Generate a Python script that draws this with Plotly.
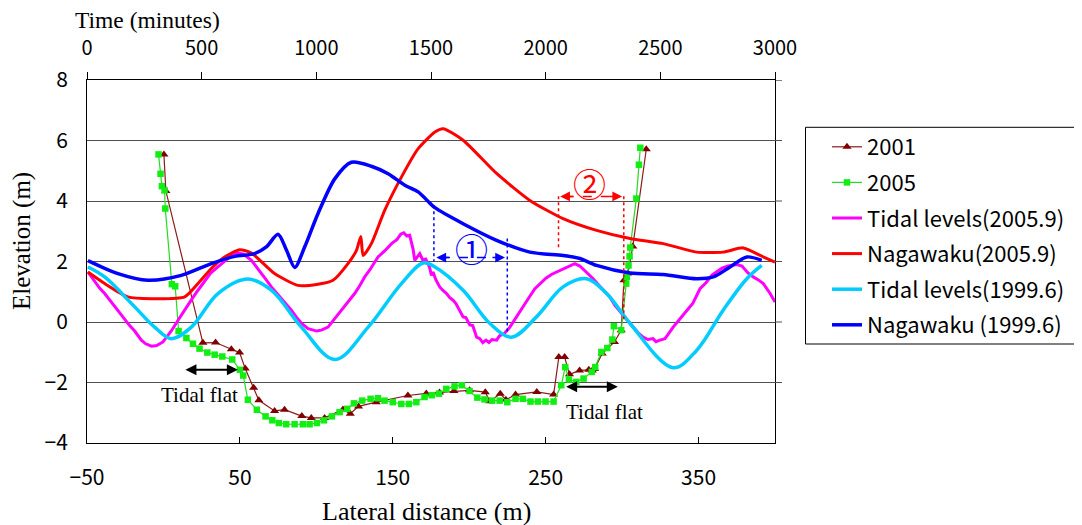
import plotly.graph_objects as go

# ---------------- data ----------------
# Cross-section profiles (lateral distance in m, elevation in m)
x_2001 = [0.3, 1.6, 25.8, 34.1, 44.4, 49.8, 53.5, 59.0, 62.4, 72.7, 79.2, 90.5, 96.7, 105.4,
          117.4, 122.2, 127.6, 139.2, 159.9, 171.9, 180.6, 190.0, 200.2, 210.5, 213.5, 220.3,
          224.0, 230.3, 244.2, 255.2, 258.6, 262.4, 265.6, 272.2, 278.2, 280.5, 282.0, 287.0,
          295.0, 299.4, 301.2, 303.8, 307.0, 315.8]
y_2001 = [5.54, 4.33, -0.69, -0.68, -0.90, -1.01, -1.54, -2.17, -2.59, -2.94, -2.90, -3.11, -3.17, -3.17,
          -2.89, -3.03, -2.79, -2.65, -2.43, -2.36, -2.33, -2.28, -2.26, -2.32, -2.62, -2.37,
          -2.57, -2.40, -2.31, -2.40, -1.16, -1.16, -1.73, -1.60, -1.58, -1.60, -1.55, -1.04,
          -0.66, -0.27, 1.38, 1.60, 2.50, 5.71]

x_2005 = [-3.2, -1.9, -1.0, 0.75, 1.2, 5.5, 7.7, 9.9, 15.0, 19.3, 23.6, 28.7, 33.5, 38.5, 45.0,
          50.0, 52.2, 55.2, 61.1, 66.8, 71.2, 75.5, 80.3, 85.8, 91.2, 95.6, 100.4, 105.0, 110.2,
          115.2, 120.2, 124.6, 130.0, 135.5, 140.3, 144.6, 150.0, 155.6, 160.5, 165.4, 170.8,
          175.5, 180.2, 185.0, 190.4, 195.2, 200.2, 205.3, 210.0, 215.0, 219.9, 224.9, 230.3,
          235.1, 240.1, 244.9, 249.9, 255.2, 260.2, 262.8, 265.2, 270.0, 274.8, 280.2, 282.4,
          286.4, 290.3, 293.6, 294.6, 299.4, 302.7, 303.1, 304.2, 304.9, 305.3, 309.3, 311.0, 311.9]
y_2005 = [5.54, 4.90, 4.49, 4.35, 3.75, 1.25, 1.18, -0.30, -0.53, -0.72, -0.88, -1.01, -1.08, -1.14, -1.24,
          -1.58, -1.77, -2.57, -2.90, -3.12, -3.25, -3.34, -3.38, -3.38, -3.38, -3.38, -3.34, -3.25, -3.12,
          -2.98, -2.87, -2.69, -2.60, -2.54, -2.52, -2.60, -2.65, -2.71, -2.71, -2.65, -2.48,
          -2.42, -2.37, -2.21, -2.13, -2.09, -2.28, -2.50, -2.56, -2.60, -2.60, -2.65, -2.54,
          -2.54, -2.63, -2.63, -2.63, -2.63, -2.09, -1.49, -1.90, -1.98, -1.87, -1.65, -1.49,
          -0.99, -0.86, -0.58, -0.14, -0.27, 1.27, 1.49, 1.87, 2.17, 2.46, 4.08, 5.20, 5.76]

# Time series (time in minutes, level in m)
t_tide_2005 = [4, 33, 55, 77, 99, 120, 142, 164, 186, 208,
               237, 256, 281, 304, 331, 352, 369, 397, 426, 452,
               484, 513, 539, 571, 601, 631, 658, 683, 717, 744,
               771, 804, 832, 863, 891, 914, 936, 964, 984, 1002,
               1022, 1051, 1081, 1102, 1124, 1146, 1168, 1189, 1211, 1233,
               1255, 1269, 1298, 1328, 1351, 1368, 1381, 1394, 1407, 1416,
               1422, 1429, 1438, 1451, 1464, 1477, 1487, 1494, 1502, 1509,
               1521, 1538, 1551, 1568, 1582, 1596, 1608, 1626, 1640, 1652,
               1669, 1682, 1699, 1713, 1726, 1740, 1753, 1766, 1786, 1800,
               1818, 1844, 1866, 1883, 1902, 1931, 1953, 1975, 2001, 2027,
               2048, 2071, 2097, 2127, 2149, 2175, 2207, 2236, 2258, 2280,
               2302, 2324, 2353, 2376, 2402, 2425, 2446, 2468, 2481, 2498,
               2520, 2533, 2556, 2585, 2615, 2642, 2673, 2699, 2725, 2746,
               2769, 2795, 2833, 2856, 2882, 2905, 2926, 2949, 2978, 3000]
h_tide_2005 = [1.65, 1.35, 1.12, 0.94, 0.72, 0.50, 0.28, 0.06, -0.12, -0.30,
               -0.60, -0.72, -0.80, -0.78, -0.66, -0.45, -0.28, 0.06, 0.42, 0.70,
               1.05, 1.35, 1.62, 1.82, 2.02, 2.20, 2.28, 2.24, 2.04, 1.78,
               1.50, 1.16, 0.92, 0.62, 0.39, 0.15, -0.05, -0.22, -0.25, -0.30,
               -0.27, -0.17, 0.12, 0.32, 0.50, 0.74, 0.95, 1.20, 1.49, 1.72,
               1.98, 2.15, 2.35, 2.59, 2.72, 2.90, 2.95, 2.85, 2.87, 2.62,
               2.40, 2.04, 2.12, 2.26, 2.05, 2.08, 1.93, 1.80, 1.54, 1.65,
               1.40, 1.16, 1.05, 0.94, 0.80, 0.72, 0.62, 0.35, 0.17, 0.15,
               -0.10, -0.12, -0.50, -0.55, -0.68, -0.60, -0.68, -0.58, -0.60, -0.45,
               -0.40, -0.17, 0.10, 0.30, 0.50, 0.85, 1.10, 1.27, 1.45, 1.58,
               1.65, 1.75, 1.82, 1.93, 1.85, 1.66, 1.43, 1.18, 1.00, 0.83,
               0.55, 0.35, 0.06, -0.15, -0.35, -0.50, -0.58, -0.55, -0.65, -0.60,
               -0.55, -0.42, -0.17, 0.10, 0.39, 0.62, 1.10, 1.30, 1.55, 1.65,
               1.78, 1.85, 1.90, 1.85, 1.62, 1.49, 1.40, 1.27, 0.95, 0.66]

t_naga_2005 = [4, 77, 178, 281, 426, 484, 542, 600, 666, 717, 818, 920, 1007, 1073, 1138, 1175,
               1194, 1204, 1240, 1298, 1371, 1444, 1517, 1553, 1640, 1786, 1931, 2076, 2222,
               2368, 2513, 2658, 2774, 2862, 2935, 3000]
h_naga_2005 = [1.65, 1.27, 0.83, 0.77, 0.83, 1.27, 1.77, 2.15, 2.39, 2.28, 1.60, 1.21, 1.25, 1.38, 1.93, 2.37,
               2.83, 2.20, 2.59, 3.69, 4.79, 5.73, 6.28, 6.39, 6.01, 4.91, 4.02, 3.42, 3.03,
               2.76, 2.59, 2.31, 2.31, 2.45, 2.20, 1.98]

t_tide_1999 = [4, 77, 208, 295, 368, 455, 571, 702, 804, 935, 1081, 1226, 1371, 1466, 1517, 1640,
               1757, 1851, 1960, 2076, 2178, 2266, 2368, 2556, 2658, 2774, 2877, 2942]
h_tide_1999 = [1.82, 1.49, 0.50, -0.17, -0.55, -0.17, 0.94, 1.42, 1.05, -0.17, -1.24, -0.17, 1.27, 1.95, 1.82, 1.05,
               -0.05, -0.50, 0.17, 1.16, 1.43, 0.94, -0.05, -1.51, -0.94, 0.39, 1.43, 1.87]

t_naga_1999 = [4, 135, 266, 411, 542, 644, 731, 782, 833, 870, 906, 949, 1007, 1081, 1153, 1240, 1313,
               1386, 1444, 1495, 1517, 1640, 1786, 1931, 2076, 2149, 2222, 2368, 2513, 2658, 2731,
               2804, 2877, 2942]
h_naga_1999 = [2.03, 1.60, 1.38, 1.54, 1.93, 2.17, 2.26, 2.48, 2.90, 2.37, 1.80, 2.48, 3.58, 4.74, 5.28, 5.15, 4.90,
               4.52, 4.30, 3.93, 3.78, 3.25, 2.70, 2.31, 2.20, 2.10, 1.87, 1.62, 1.57, 1.43, 1.49,
               1.82, 2.15, 2.04]

x_ticks = [-50, 50, 150, 250, 350]
t_ticks = [0, 500, 1000, 1500, 2000, 2500, 3000]
y_ticks = [-4, -2, 0, 2, 4, 6, 8]

# annotation anchors (lateral distance m, elevation m)
arrow1 = dict(x0=178.5, x1=223.4, y=2.13, vx0=176.9, vy0=(3.86, 2.0), vx1=224.9, vy1=(2.76, -0.35))
arrow2 = dict(x0=259.5, x1=300.0, y=4.15, vx0=258.4, vy0=(4.16, 2.43), vx1=301.1, vy1=(4.16, 0.0))
flat1 = dict(x0=13.4, x1=48.7, y=-1.58, tx=23.6, ty=-2.40)
flat2 = dict(x0=262.4, x1=297.2, y=-2.14, tx=288.5, ty=-2.98)

SANS = "Noto Sans CJK JP"
SERIF = "Liberation Serif"

# the page body has an 8px margin: figure sized so it fits the 1082x525 window
OFF = 8
W, H = 1082 - OFF, 525 - OFF
L, R, T, B = 79, 307, 72, 82
PW, PH = W - L - R, H - T - B


def px(xp):
    return (xp - OFF - L) / PW


def py(yp):
    return (H - B - (yp - OFF)) / PH


fig = go.Figure()

# time series on top (minutes) axis
fig.add_trace(go.Scatter(x=t_tide_2005, y=h_tide_2005, xaxis="x2", yaxis="y", mode="lines",
                         name="Tidal levels(2005.9)", line=dict(color="#FF00FF", width=3),
                         legendrank=3, legendgroup="g3"))
fig.add_trace(go.Scatter(x=t_naga_2005, y=h_naga_2005, xaxis="x2", yaxis="y", mode="lines",
                         name="Nagawaku(2005.9)", line=dict(color="#FF0000", width=3, shape="spline", smoothing=0.6),
                         legendrank=4, legendgroup="g4"))
fig.add_trace(go.Scatter(x=t_tide_1999, y=h_tide_1999, xaxis="x2", yaxis="y", mode="lines",
                         name="Tidal levels(1999.6)", line=dict(color="#00CCFF", width=3.5, shape="spline", smoothing=1.0),
                         legendrank=5, legendgroup="g5"))
fig.add_trace(go.Scatter(x=t_naga_1999, y=h_naga_1999, xaxis="x2", yaxis="y", mode="lines",
                         name="Nagawaku (1999.6)", line=dict(color="#0000FF", width=3.5, shape="spline", smoothing=0.8),
                         legendrank=6, legendgroup="g6"))

# profiles on bottom (lateral distance) axis
fig.add_trace(go.Scatter(x=x_2001, y=y_2001, mode="lines+markers", name="2001",
                         line=dict(color="#8B1A1A", width=1.2),
                         marker=dict(symbol="triangle-up", size=8, color="#800000"),
                         legendrank=1, legendgroup="g1"))
fig.add_trace(go.Scatter(x=x_2005, y=y_2005, mode="lines+markers", name="2005",
                         line=dict(color="#22DD22", width=1.2),
                         marker=dict(symbol="square", size=6.5, color="#11EE11"),
                         legendrank=2, legendgroup="g2"))

shapes = []
annotations = []

# dotted verticals + dashed double arrows
for a, col in ((arrow1, "#0000FF"), (arrow2, "#FF0000")):
    shapes.append(dict(type="line", xref="x", yref="y", x0=a["vx0"], x1=a["vx0"],
                       y0=a["vy0"][0], y1=a["vy0"][1], line=dict(color=col, width=1.5, dash="dot")))
    shapes.append(dict(type="line", xref="x", yref="y", x0=a["vx1"], x1=a["vx1"],
                       y0=a["vy1"][0], y1=a["vy1"][1], line=dict(color=col, width=1.5, dash="dot")))
    shapes.append(dict(type="line", xref="x", yref="y", x0=a["x0"] + 3, x1=a["x1"] - 3,
                       y0=a["y"], y1=a["y"], line=dict(color=col, width=1.5, dash="dash")))
    annotations.append(dict(x=a["x0"], y=a["y"], xref="x", yref="y", ax=14, ay=0, axref="pixel",
                            ayref="pixel", showarrow=True, arrowhead=2, arrowsize=1.3, arrowwidth=1.5,
                            arrowcolor=col, text=""))
    annotations.append(dict(x=a["x1"], y=a["y"], xref="x", yref="y", ax=-14, ay=0, axref="pixel",
                            ayref="pixel", showarrow=True, arrowhead=2, arrowsize=1.3, arrowwidth=1.5,
                            arrowcolor=col, text=""))

annotations.append(dict(x=201.3, y=2.43, xref="x", yref="y", text="①", showarrow=False,
                        font=dict(family=SANS, size=33, color="#0000FF")))
annotations.append(dict(x=278.7, y=4.58, xref="x", yref="y", text="②", showarrow=False,
                        font=dict(family=SANS, size=33, color="#FF0000")))

# Tidal flat arrows
for f in (flat1, flat2):
    annotations.append(dict(x=f["x1"], y=f["y"], ax=f["x0"], ay=f["y"], xref="x", yref="y",
                            axref="x", ayref="y", showarrow=True, arrowside="end+start",
                            arrowhead=2, startarrowhead=2, arrowsize=1.1, startarrowsize=1.1,
                            arrowwidth=2, arrowcolor="black", text=""))
    annotations.append(dict(x=f["tx"], y=f["ty"], xref="x", yref="y", text="Tidal flat",
                            showarrow=False, font=dict(family=SERIF, size=21, color="black")))

# axis titles (page pixel positions)
annotations.append(dict(x=px(147), y=py(20), xref="paper", yref="paper", xanchor="center", yanchor="middle",
                        text="Time (minutes)", showarrow=False,
                        font=dict(family=SERIF, size=23.5, color="black")))
annotations.append(dict(x=px(426.5), y=py(511), xref="paper", yref="paper", xanchor="center", yanchor="middle",
                        text="Lateral distance (m)", showarrow=False,
                        font=dict(family=SERIF, size=26, color="black")))
annotations.append(dict(x=px(22), y=py(241), xref="paper", yref="paper", xanchor="center", yanchor="middle",
                        text="Elevation (m)", showarrow=False, textangle=-90,
                        font=dict(family=SERIF, size=25, color="black")))

# gridlines poke slightly past the right border in the reference
for yv in y_ticks[1:]:
    shapes.append(dict(type="line", xref="paper", yref="y", x0=1.0, x1=px(782), y0=yv, y1=yv,
                       line=dict(color="#505050" if yv != 8 else "black", width=1)))

# legend box (extends past right edge like the reference)
shapes.append(dict(type="rect", xref="paper", yref="paper",
                   x0=px(805.5), x1=px(1100), y0=py(344), y1=py(127.3),
                   line=dict(color="black", width=1), fillcolor="white", layer="below"))

fig.update_layout(
    width=W, height=H,
    margin=dict(l=L, r=R, t=T, b=B),
    plot_bgcolor="white", paper_bgcolor="white",
    showlegend=True,
    legend=dict(x=px(827), y=py(126), xanchor="left", yanchor="top",
                bgcolor="rgba(0,0,0,0)", borderwidth=0, tracegroupgap=4, itemwidth=30,
                font=dict(family=SANS, size=22, color="black")),
    shapes=shapes, annotations=annotations,
    xaxis=dict(range=[-50, 400], tickvals=x_ticks, ticks="inside", ticklen=6, tickcolor="black",
               showline=True, linecolor="black", linewidth=1, showgrid=False, zeroline=False,
               tickfont=dict(family=SANS, size=21, color="black"), ticklabelstandoff=16),
    xaxis2=dict(range=[0, 3000], tickvals=t_ticks, overlaying="x", side="top", anchor="y",
                ticks="outside", ticklen=7, tickcolor="black", showline=True, linecolor="black",
                linewidth=1, showgrid=False, zeroline=False,
                tickfont=dict(family=SANS, size=20, color="black"), ticklabelstandoff=9),
    yaxis=dict(range=[-4, 8], tickvals=y_ticks, showline=True, linecolor="black", linewidth=1,
               mirror=True, ticks="", showgrid=True, gridcolor="#505050", gridwidth=1, zeroline=False,
               tickfont=dict(family=SANS, size=21, color="black"), ticklabelstandoff=14),
)

fig.write_html("out.html")
